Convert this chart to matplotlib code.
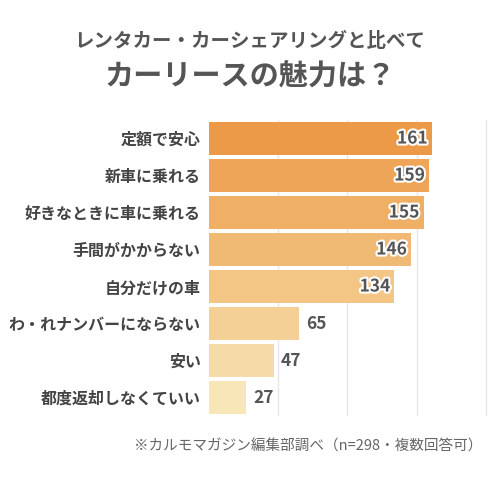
import matplotlib.pyplot as plt
import matplotlib.patheffects as pe
from matplotlib.colors import LinearSegmentedColormap

plt.rcParams['font.family'] = ['Noto Sans CJK JP', 'DejaVu Sans']

categories = ['定額で安心', '新車に乗れる', '好きなときに車に乗れる', '手間がかからない',
              '自分だけの車', 'わ・れナンバーにならない', '安い', '都度返却しなくていい']
values = [161, 159, 155, 146, 134, 65, 47, 27]

cmap = LinearSegmentedColormap.from_list('o', ['#ec9a48', '#f2c07c', '#f6e6b8'])

fig = plt.figure(figsize=(5, 4.86), dpi=100)
ax = fig.add_axes([0.418, 0.144, 0.562, 0.609])
n = len(values)
ys = list(range(n))
colors = [cmap(i / (n - 1)) for i in range(n)]
ax.barh(ys, values, height=0.88, color=colors, zorder=2)
ax.set_ylim(n - 0.5, -0.5)
ax.set_xlim(0, 203)
ax.set_xticks([50, 100, 150, 200])
ax.xaxis.grid(True, color='#e6e6e6', lw=1, zorder=0)
ax.tick_params(length=0, labelbottom=False, pad=6)
ax.set_yticks(ys)
ax.set_yticklabels(categories, fontsize=11.5, fontweight='bold', color='#444444')
for s in ax.spines.values():
    s.set_visible(False)

stroke = [pe.withStroke(linewidth=3, foreground='white')]
for y, v in zip(ys, values):
    if v > 100:
        ax.text(v - 3, y, str(v), ha='right', va='center', fontsize=12.5,
                fontweight='bold', color='#555555', path_effects=stroke, zorder=3)
    else:
        ax.text(v + 5, y, str(v), ha='left', va='center', fontsize=12.5,
                fontweight='bold', color='#555555', zorder=3)

fig.text(0.5, 0.915, 'レンタカー・カーシェアリングと比べて', ha='center', va='center',
         fontsize=14, fontweight='bold', color='#555555')
fig.text(0.5, 0.842, 'カーリースの魅力は？', ha='center', va='center',
         fontsize=21, fontweight='bold', color='#555555')
fig.text(0.965, 0.082, '※カルモマガジン編集部調べ（n=298・複数回答可）', ha='right', va='center',
         fontsize=10.5, color='#666666')

fig.savefig('out.png', dpi=100, facecolor='white')
